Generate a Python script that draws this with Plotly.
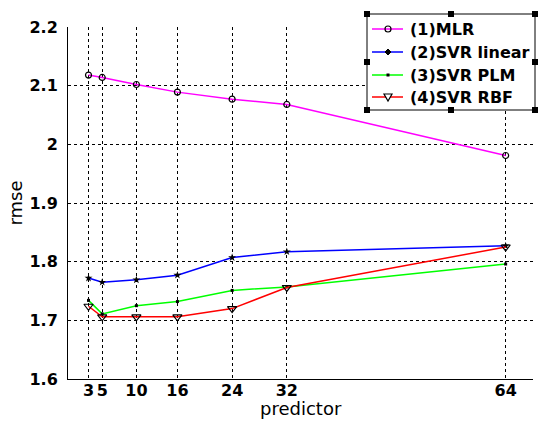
import plotly.graph_objects as go

predictors = [3, 5, 10, 16, 24, 32, 64]
mlr = [2.118, 2.114, 2.102, 2.089, 2.077, 2.068, 1.981]
svr_linear = [1.772, 1.765, 1.769, 1.777, 1.807, 1.817, 1.827]
svr_plm = [1.734, 1.711, 1.725, 1.732, 1.751, 1.757, 1.796]
svr_rbf = [1.724, 1.706, 1.706, 1.706, 1.720, 1.756, 1.825]
y_ticks = [1.6, 1.7, 1.8, 1.9, 2.0, 2.1, 2.2]
y_tick_labels = ["1.6", "1.7", "1.8", "1.9", "2", "2.1", "2.2"]
series_names = ["(1)MLR", "(2)SVR linear", "(3)SVR PLM", "(4)SVR RBF"]
series_colors = ["#ff00ff", "#0000ff", "#00ff00", "#ff0000"]

FONT = "DejaVu Sans"

fig = go.Figure()
fig.add_trace(go.Scatter(x=predictors, y=mlr, name=series_names[0], mode="lines+markers",
                         line=dict(color=series_colors[0], width=1.5),
                         marker=dict(symbol="circle-open", size=6, color="black", line=dict(width=1.2, color="black"))))
fig.add_trace(go.Scatter(x=predictors, y=svr_linear, name=series_names[1], mode="lines+markers",
                         line=dict(color=series_colors[1], width=1.5),
                         marker=dict(symbol="star", size=6, color="black", line=dict(width=0))))
fig.add_trace(go.Scatter(x=predictors, y=svr_plm, name=series_names[2], mode="lines+markers",
                         line=dict(color=series_colors[2], width=1.5),
                         marker=dict(symbol="square", size=3, color="black", line=dict(width=0))))
fig.add_trace(go.Scatter(x=predictors, y=svr_rbf, name=series_names[3], mode="lines+markers",
                         line=dict(color=series_colors[3], width=1.5),
                         marker=dict(symbol="triangle-down-open", size=8, color="black", line=dict(width=1.2, color="black"))))

L, R, T, B = 68, 8, 27, 42
W, H = 541, 421
pw, ph = W - L - R, H - T - B

def px(x):
    return (x - L) / pw

def py(y):
    return (H - B - y) / ph

fig.update_layout(
    width=W, height=H,
    margin=dict(l=L, r=R, t=T, b=B),
    plot_bgcolor="white", paper_bgcolor="white",
    font=dict(family=FONT, color="black"),
    showlegend=False,
    xaxis=dict(range=[0, 68], tickvals=predictors, ticktext=[str(p) for p in predictors],
               showgrid=True, gridcolor="black", griddash="dot", gridwidth=1,
               showline=True, linecolor="black", linewidth=1, zeroline=False, automargin=False,
               ticks="", tickfont=dict(size=16, weight="bold"), ticklabelstandoff=-3),
    yaxis=dict(range=[1.6, 2.2], tickvals=y_ticks, ticktext=y_tick_labels,
               showgrid=True, gridcolor="black", griddash="dot", gridwidth=1,
               showline=True, linecolor="black", linewidth=1, zeroline=False, automargin=False,
               ticks="", tickfont=dict(size=16, weight="bold"), ticklabelstandoff=6,
               title=dict(text="rmse", font=dict(size=18), standoff=2)),
)

# x-axis title placed as annotation near bottom edge
fig.add_annotation(x=0.5, y=py(H), xref="paper", yref="paper", text="predictor", showarrow=False,
                   xanchor="center", yanchor="bottom", font=dict(size=18, family=FONT))

# ---- manual MATLAB-style legend ----
bx0, bx1, by0, by1 = 367, 535, 14, 110
fig.add_shape(type="rect", xref="paper", yref="paper", x0=px(bx0), x1=px(bx1), y0=py(by1), y1=py(by0),
              fillcolor="white", line=dict(color="black", width=1), layer="above")
entry_y = [29, 52, 75, 97]
lx0, lx1, mx, tx = 372, 403, 388, 408
for i, (nm, col) in enumerate(zip(series_names, series_colors)):
    yy = entry_y[i]
    fig.add_shape(type="line", xref="paper", yref="paper", x0=px(lx0), x1=px(lx1), y0=py(yy), y1=py(yy),
                  line=dict(color=col, width=1.5), layer="above")
    fig.add_annotation(x=px(tx), y=py(yy), xref="paper", yref="paper", text=nm, showarrow=False,
                       xanchor="left", yanchor="middle", font=dict(size=16, family=FONT, weight="bold"))
# legend glyph markers
fig.add_shape(type="circle", xref="paper", yref="paper", x0=px(mx - 3), x1=px(mx + 3),
              y0=py(entry_y[0] + 3), y1=py(entry_y[0] - 3), line=dict(color="black", width=1.2),
              fillcolor="rgba(0,0,0,0)", layer="above")
fig.add_shape(type="path", xref="paper", yref="paper",
              path=f"M {px(mx-3)} {py(entry_y[1])} L {px(mx)} {py(entry_y[1]-3)} L {px(mx+3)} {py(entry_y[1])} L {px(mx)} {py(entry_y[1]+3)} Z",
              fillcolor="black", line=dict(color="black", width=1), layer="above")
fig.add_shape(type="rect", xref="paper", yref="paper", x0=px(mx - 1.5), x1=px(mx + 1.5),
              y0=py(entry_y[2] + 1.5), y1=py(entry_y[2] - 1.5), fillcolor="black",
              line=dict(width=0), layer="above")
fig.add_shape(type="path", xref="paper", yref="paper",
              path=f"M {px(mx-4)} {py(entry_y[3]-3)} L {px(mx+4)} {py(entry_y[3]-3)} L {px(mx)} {py(entry_y[3]+4)} Z",
              fillcolor="white", line=dict(color="black", width=1.2), layer="above")

# selection handles on legend box
hx = [bx0, (bx0 + bx1) / 2, bx1]
hy = [by0, (by0 + by1) / 2, by1]
for xx in hx:
    for yy in hy:
        if xx == hx[1] and yy == hy[1]:
            continue
        fig.add_shape(type="rect", xref="paper", yref="paper", x0=px(xx - 3), x1=px(xx + 3),
                      y0=py(yy + 3), y1=py(yy - 3), fillcolor="black", line=dict(width=0), layer="above")

fig.write_html("out.html", config={"displayModeBar": False},
               post_script="document.body.style.margin='0';document.body.style.padding='0';")
